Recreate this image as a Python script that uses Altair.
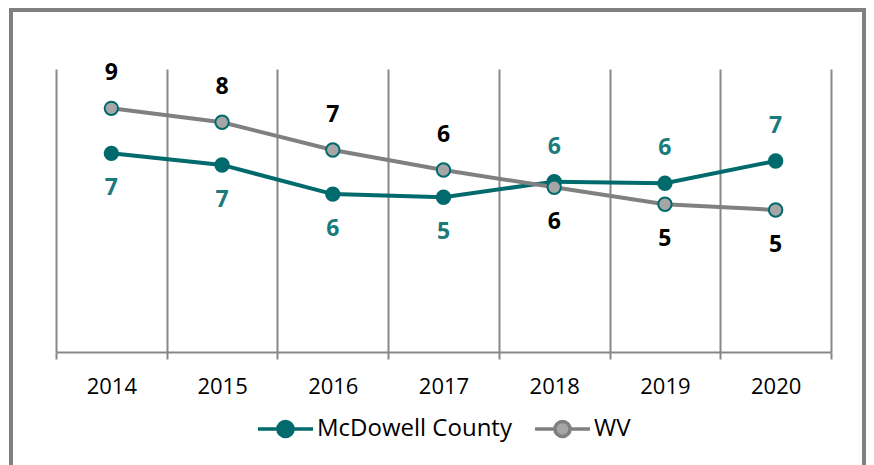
import altair as alt
import pandas as pd

years = ["2014", "2015", "2016", "2017", "2018", "2019", "2020"]
series_names = ["McDowell County", "WV"]
mcdowell = [7.02, 6.61, 5.58, 5.47, 6.02, 5.96, 6.75]
wv = [8.61, 8.12, 7.14, 6.43, 5.82, 5.22, 5.02]
mcdowell_label_side = ["below", "below", "below", "below", "above", "above", "above"]
wv_label_side = ["above", "above", "above", "above", "below", "below", "below"]

teal = "#006A6C"
line_colors = [teal, "#808080"]
fill_colors = [teal, "#A6A6A6"]
label_colors = ["#1A7A7C", "#000000"]
grey = "#878787"

rows = []
for name, vals, sides in [(series_names[0], mcdowell, mcdowell_label_side),
                          (series_names[1], wv, wv_label_side)]:
    for yr, v, s in zip(years, vals, sides):
        rows.append({"year": yr, "series": name, "value": v, "side": s})
df = pd.DataFrame(rows)

legend_path = ("M-2,0 L-0.55,0 M0.55,0 L2,0 "
               "M0.55,0 A0.55,0.55 0 1,1 -0.55,0 A0.55,0.55 0 1,1 0.55,0 Z")
legend = alt.Legend(
    title=None, orient="none", legendX=214, legendY=344, direction="horizontal",
    symbolType=legend_path, symbolSize=756, symbolStrokeWidth=3.5,
    labelFont="Open Sans", labelFontSize=24, labelColor="#000000", labelLimit=0,
    labelOffset=16, columnPadding=16, padding=0,
)

x_enc = alt.X(
    "year:N", sort=years,
    scale=alt.Scale(type="band", paddingInner=0, paddingOuter=0),
    axis=alt.Axis(
        title=None, labelAngle=0, tickBand="extent", grid=True,
        gridColor=grey, gridWidth=2, domainColor=grey, domainWidth=2,
        tickColor=grey, tickWidth=2, tickSize=7,
        labelFont="Open Sans", labelFontSize=22, labelColor="#000000",
        labelPadding=17,
    ),
)
y_enc = alt.Y("value:Q", scale=alt.Scale(domain=[0, 10], nice=False), axis=None)

base = alt.Chart(df).encode(x=x_enc, y=y_enc)

lines = base.mark_line(strokeWidth=4).encode(
    stroke=alt.Stroke("series:N", scale=alt.Scale(domain=series_names, range=line_colors), legend=legend),
    detail="series:N",
)
points = base.mark_point(filled=True, size=180, opacity=1, strokeWidth=2).encode(
    fill=alt.Fill("series:N", scale=alt.Scale(domain=series_names, range=fill_colors), legend=legend),
    stroke=alt.value(teal),
)

def labels(side, dy):
    return base.transform_filter(alt.datum.side == side).mark_text(
        font="Open Sans", fontSize=23, fontWeight="bold", baseline="middle", dy=dy
    ).encode(
        text=alt.Text("value:Q", format=".0f"),
        color=alt.Color("series:N", scale=alt.Scale(domain=series_names, range=label_colors), legend=None),
    )

border = alt.Chart(alt.Data(values=[{"b": 1}])).mark_rect(
    fill=None, stroke="#808080", strokeWidth=4
).encode(x=alt.value(-45), x2=alt.value(808), y=alt.value(-59), y2=alt.value(430))

chart = alt.layer(border, lines, points, labels("above", -35), labels("below", 35)).resolve_scale(
    color="independent"
).properties(
    width=775, height=283,
    autosize=alt.AutoSizeParams(type="none"),
    padding={"left": 48, "top": 61, "right": 35, "bottom": 113},
).configure_view(stroke=None)

chart.save("out.html", embed_options={"renderer": "svg", "actions": False})
